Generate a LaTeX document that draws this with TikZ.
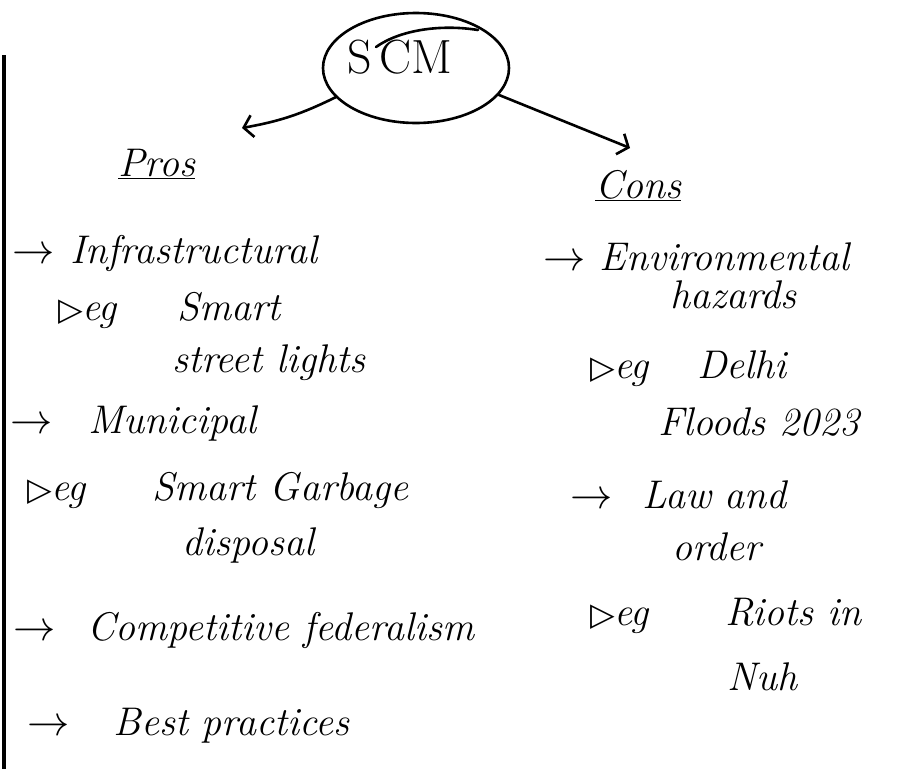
\documentclass[tikz,border=0pt]{standalone}
\usepackage{fontspec}
\usepackage{graphicx}
\newfontfamily\markfont{DejaVu Sans}
\usepackage{tikz}
\usetikzlibrary{shapes.geometric,arrows.meta}

\newcommand{\toarr}{\scalebox{1.7}{$\rightarrow$}}
\newcommand{\egmark}{{\markfont\fontsize{32}{40}\selectfont ▷}}

\tikzset{
  ink/.style={line width=2.6pt, line cap=round, black},
  hand/.style={anchor=base west, inner sep=0pt, font=\fontsize{40}{44}\selectfont\itshape},
  tip/.style={-{Straight Barb[length=9pt,width=22pt,line width=2.6pt]}}
}

\begin{document}
\begin{tikzpicture}[x=1pt,y=-1pt]
  \useasboundingbox (0,0) rectangle (907,769);
  % page edge on the left
  \draw[line width=3.5pt] (4,55) -- (4,769);

  % Top: the topic in its loop
  \node[ellipse, draw, line width=2.6pt, minimum width=186pt, minimum height=110pt,
        inner sep=0pt] (scm) at (416,68) {};
  \node[inner sep=0pt, font=\fontsize{48}{52}\selectfont] (scmtext) at (400,57) {S\,CM};
  \draw[ink] (376,47) .. controls (400,30) and (440,24) .. (478,30);

  % headings
  \node[hand] (pros) at (118,176) {\underline{Pros}};
  \node[hand] (cons) at (595,198) {\underline{Cons}};
  \coordinate (prostip) at (242,128);
  \coordinate (constip) at (630,148);
  \draw[ink,tip] (scm.200) to[bend left=8] (prostip);
  \draw[ink,tip] (scm.-18) -- (constip);

  % Left column: pros
  \node[hand] (infra) at (12,263) {\toarr\hspace{2pt} Infrastructural};
  \node[hand] (eg1) at (58,320) {\egmark eg};
  \node[hand] (smart1) at (177,320) {Smart};
  \node[hand] (lights) at (172,372) {street lights};
  \node[hand] (muni) at (10,433) {\toarr\hspace{22pt} Municipal};
  \node[hand] (eg2) at (27,500) {\egmark eg};
  \node[hand] (garbage) at (152,500) {Smart Garbage};
  \node[hand] (disposal) at (182,555) {disposal};
  \node[hand] (fed) at (13,640) {\toarr\hspace{18pt} Competitive federalism};
  \node[hand] (best) at (27,735) {\toarr\hspace{30pt} Best practices};

  % Right column: cons
  \node[hand] (env) at (543,270) {\toarr\hspace{0pt} Environmental};
  \node[hand] (haz) at (670,308) {hazards};
  \node[hand] (eg3) at (590,378) {\egmark eg};
  \node[hand] (delhi) at (697,378) {Delhi};
  \node[hand] (floods) at (658,435) {Floods 2023};
  \node[hand] (law) at (570,508) {\toarr\hspace{16pt} Law and};
  \node[hand] (order) at (672,560) {order};
  \node[hand] (eg4) at (590,625) {\egmark eg};
  \node[hand] (riots) at (725,625) {Riots in};
  \node[hand] (nuh) at (727,690) {Nuh};
\end{tikzpicture}
\end{document}
